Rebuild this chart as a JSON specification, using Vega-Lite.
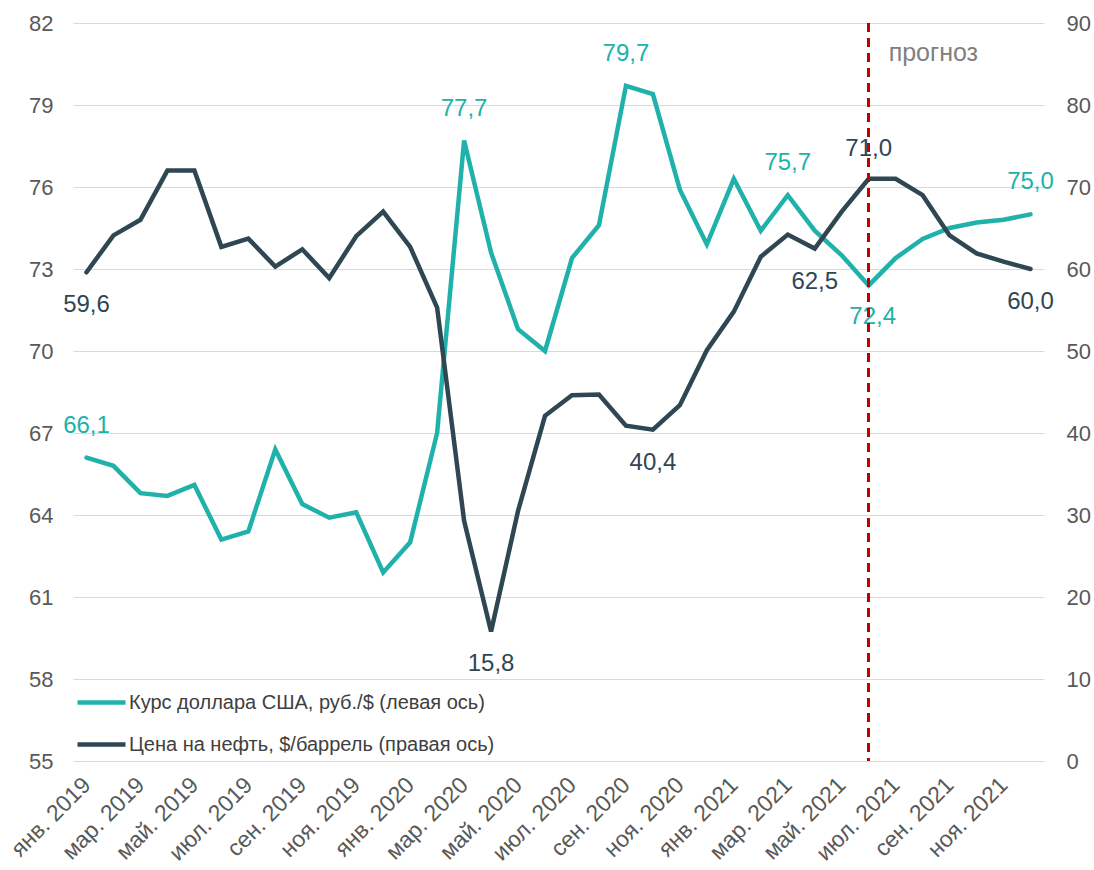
{
  "$schema": "https://vega.github.io/schema/vega-lite/v6.json",
  "width": 971,
  "height": 738,
  "autosize": {"type": "none"},
  "padding": {"left": 73, "top": 23, "right": 50, "bottom": 109},
  "background": "white",
  "config": {
    "locale": {"number": {"decimal": ",", "thousands": " ", "grouping": [3], "currency": ["", ""]}},
    "font": "Liberation Sans",
    "view": {"stroke": null},
    "axis": {"domain": false, "ticks": false, "labelFont": "Liberation Sans", "labelFontSize": 22, "labelColor": "#595959", "title": null},
    "legend": {"labelFont": "Liberation Sans"}
  },
  "data": {"values": [
    {"m": "янв. 2019", "usd": 66.1, "oil": 59.6},
    {"m": "фев. 2019", "usd": 65.8, "oil": 64.1},
    {"m": "мар. 2019", "usd": 64.8, "oil": 66.0},
    {"m": "апр. 2019", "usd": 64.7, "oil": 72.0},
    {"m": "май. 2019", "usd": 65.1, "oil": 72.0},
    {"m": "июн. 2019", "usd": 63.1, "oil": 62.7},
    {"m": "июл. 2019", "usd": 63.4, "oil": 63.7},
    {"m": "авг. 2019", "usd": 66.4, "oil": 60.3},
    {"m": "сен. 2019", "usd": 64.4, "oil": 62.4},
    {"m": "окт. 2019", "usd": 63.9, "oil": 58.9},
    {"m": "ноя. 2019", "usd": 64.1, "oil": 64.0},
    {"m": "дек. 2019", "usd": 61.9, "oil": 67.0},
    {"m": "янв. 2020", "usd": 63.0, "oil": 62.7},
    {"m": "фев. 2020", "usd": 67.0, "oil": 55.3},
    {"m": "мар. 2020", "usd": 77.7, "oil": 29.3},
    {"m": "апр. 2020", "usd": 73.6, "oil": 15.8},
    {"m": "май. 2020", "usd": 70.8, "oil": 30.5},
    {"m": "июн. 2020", "usd": 70.0, "oil": 42.1},
    {"m": "июл. 2020", "usd": 73.4, "oil": 44.6},
    {"m": "авг. 2020", "usd": 74.6, "oil": 44.7},
    {"m": "сен. 2020", "usd": 79.7, "oil": 40.9},
    {"m": "окт. 2020", "usd": 79.4, "oil": 40.4},
    {"m": "ноя. 2020", "usd": 75.9, "oil": 43.4},
    {"m": "дек. 2020", "usd": 73.9, "oil": 50.1},
    {"m": "янв. 2021", "usd": 76.3, "oil": 54.8},
    {"m": "фев. 2021", "usd": 74.4, "oil": 61.5},
    {"m": "мар. 2021", "usd": 75.7, "oil": 64.2},
    {"m": "апр. 2021", "usd": 74.4, "oil": 62.5},
    {"m": "май. 2021", "usd": 73.5, "oil": 67.0},
    {"m": "июн. 2021", "usd": 72.4, "oil": 71.0},
    {"m": "июл. 2021", "usd": 73.4, "oil": 71.0},
    {"m": "авг. 2021", "usd": 74.1, "oil": 69.0},
    {"m": "сен. 2021", "usd": 74.5, "oil": 64.1},
    {"m": "окт. 2021", "usd": 74.7, "oil": 61.9},
    {"m": "ноя. 2021", "usd": 74.8, "oil": 60.9},
    {"m": "дек. 2021", "usd": 75.0, "oil": 60.0}
  ]},
  "encoding": {
    "x": {
      "field": "m", "type": "ordinal", "sort": null,
      "scale": {"type": "point", "padding": 0.5},
      "axis": {
        "values": ["янв. 2019", "мар. 2019", "май. 2019", "июл. 2019", "сен. 2019", "ноя. 2019", "янв. 2020", "мар. 2020", "май. 2020", "июл. 2020", "сен. 2020", "ноя. 2020", "янв. 2021", "мар. 2021", "май. 2021", "июл. 2021", "сен. 2021", "ноя. 2021"],
        "labelAngle": -45, "labelAlign": "right", "labelBaseline": "middle", "labelPadding": 20, "labelFontSize": 23, "grid": false
      }
    }
  },
  "layer": [
    {
      "encoding": {
        "y": {
          "field": "usd", "type": "quantitative",
          "scale": {"domain": [55, 82], "nice": false, "zero": false},
          "axis": {"orient": "left", "values": [55, 58, 61, 64, 67, 70, 73, 76, 79, 82], "grid": true, "gridColor": "#d9d9d9", "gridWidth": 1.2, "labelPadding": 20}
        }
      },
      "layer": [
        {
          "mark": {"type": "line", "strokeWidth": 4.5, "strokeCap": "round"},
          "encoding": {"color": {"datum": "Курс доллара США, руб./$ (левая ось)", "type": "nominal",
            "scale": {"domain": ["Курс доллара США, руб./$ (левая ось)", "Цена на нефть, $/баррель (правая ось)"], "range": ["#20b2aa", "#2f4653"]},
            "legend": {"orient": "none", "legendX": 2, "legendY": 653, "title": null, "symbolType": "stroke", "symbolSize": 2304, "symbolStrokeWidth": 4.5, "labelFontSize": 20, "labelColor": "#404040", "labelOffset": 1, "labelLimit": 0, "rowPadding": 5}}}
        },
        {
          "transform": [{"filter": {"field": "m", "oneOf": ["янв. 2019", "мар. 2020", "сен. 2020", "мар. 2021", "дек. 2021"]}}],
          "mark": {"type": "text", "fontSize": 24, "color": "#20b2aa", "dy": -32, "baseline": "middle"},
          "encoding": {"text": {"field": "usd", "type": "quantitative", "format": ".1f"}}
        },
        {
          "transform": [{"filter": {"field": "m", "oneOf": ["июн. 2021"]}}],
          "mark": {"type": "text", "fontSize": 24, "color": "#20b2aa", "dy": 32, "dx": 4, "baseline": "middle"},
          "encoding": {"text": {"field": "usd", "type": "quantitative", "format": ".1f"}}
        },
        {
          "transform": [{"filter": {"field": "m", "oneOf": ["июн. 2021"]}}],
          "mark": {"type": "text", "fontSize": 25, "color": "#808080", "align": "left", "baseline": "middle", "dx": 20},
          "encoding": {"y": {"datum": 80.9}, "text": {"value": "прогноз"}}
        }
      ]
    },
    {
      "encoding": {
        "y": {
          "field": "oil", "type": "quantitative",
          "scale": {"domain": [0, 90], "nice": false},
          "axis": {"orient": "right", "values": [0, 10, 20, 30, 40, 50, 60, 70, 80, 90], "grid": false, "labelPadding": 22}
        }
      },
      "layer": [
        {
          "mark": {"type": "line", "strokeWidth": 4.5, "strokeCap": "round"},
          "encoding": {"color": {"datum": "Цена на нефть, $/баррель (правая ось)", "type": "nominal"}}
        },
        {
          "transform": [{"filter": {"field": "m", "oneOf": ["янв. 2019", "апр. 2020", "окт. 2020", "апр. 2021", "дек. 2021"]}}],
          "mark": {"type": "text", "fontSize": 24, "color": "#2f4653", "dy": 33, "baseline": "middle"},
          "encoding": {"text": {"field": "oil", "type": "quantitative", "format": ".1f"}}
        },
        {
          "transform": [{"filter": {"field": "m", "oneOf": ["июн. 2021"]}}],
          "mark": {"type": "text", "fontSize": 24, "color": "#2f4653", "dy": -30, "baseline": "middle"},
          "encoding": {"text": {"field": "oil", "type": "quantitative", "format": ".1f"}}
        }
      ]
    },
    {
      "mark": {"type": "rule", "color": "#c00000", "strokeWidth": 2, "strokeDash": [9, 6]},
      "encoding": {"x": {"datum": "июн. 2021"}}
    }
  ],
  "resolve": {"scale": {"y": "independent"}}
}
